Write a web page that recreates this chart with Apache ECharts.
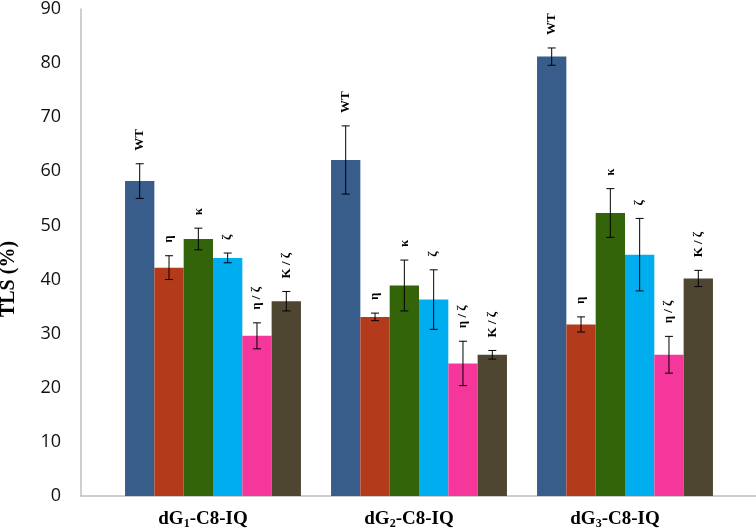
<!DOCTYPE html>
<html>
<head>
<meta charset="utf-8">
<script src="https://cdn.jsdelivr.net/npm/echarts@6/dist/echarts.min.js"></script>
<style>
html,body{margin:0;padding:0;background:#fff;}
#chart{width:756px;height:532px;}
</style>
</head>
<body>
<div id="chart"></div>
<script>
const categories = ['dG1-C8-IQ', 'dG2-C8-IQ', 'dG3-C8-IQ'];
const seriesNames = ['WT', 'η', 'κ', 'ζ', 'η / ζ', 'K / ζ'];
const yTicks = [0, 10, 20, 30, 40, 50, 60, 70, 80, 90];

const wtValues    = [58.2, 62.1, 81.2];
const etaValues   = [42.2, 33.1, 31.7];
const kappaValues = [47.5, 38.9, 52.3];
const zetaValues  = [44.0, 36.3, 44.6];
const etaZetaValues   = [29.6, 24.5, 26.1];
const kappaZetaValues = [36.0, 26.1, 40.2];

const wtErr    = [3.2, 6.3, 1.6];
const etaErr   = [2.2, 0.7, 1.4];
const kappaErr = [2.0, 4.7, 4.5];
const zetaErr  = [0.9, 5.5, 6.7];
const etaZetaErr   = [2.4, 4.1, 3.4];
const kappaZetaErr = [1.8, 0.8, 1.5];

const allValues = [wtValues, etaValues, kappaValues, zetaValues, etaZetaValues, kappaZetaValues];
const allErrors = [wtErr, etaErr, kappaErr, zetaErr, etaZetaErr, kappaZetaErr];
const colors = ['#385d8a', '#b33b1c', '#33640a', '#00aeef', '#f5379c', '#4e4630'];

const CAT_GAP = 0.146;
const NS = seriesNames.length;

const barSeries = seriesNames.map((name, i) => ({
  name: name,
  type: 'bar',
  xAxisIndex: 0,
  yAxisIndex: 0,
  data: allValues[i],
  barGap: '0%',
  barCategoryGap: (CAT_GAP * 100) + '%',
  itemStyle: { color: colors[i] },
  silent: true
}));

const errData = [];
for (let s = 0; s < NS; s++) {
  for (let c = 0; c < categories.length; c++) {
    errData.push([c, s, allValues[s][c], allErrors[s][c]]);
  }
}

const errorSeries = {
  type: 'custom',
  xAxisIndex: 0,
  yAxisIndex: 0,
  data: errData,
  encode: { x: 0, y: 2 },
  z: 10,
  silent: true,
  renderItem: function (params, api) {
    const c = api.value(0), s = api.value(1), v = api.value(2), e = api.value(3);
    const band = api.size([1, 0])[0];
    const bw = band * (1 - CAT_GAP) / NS;
    const center = api.coord([c, v]);
    const x = center[0] + (s - (NS - 1) / 2) * bw;
    const yTop = api.coord([c, v + e])[1];
    const yBot = api.coord([c, v - e])[1];
    const cap = 4;
    const st = { stroke: '#000', lineWidth: 1 };
    return {
      type: 'group',
      children: [
        { type: 'line', shape: { x1: x, y1: yTop, x2: x, y2: yBot }, style: st },
        { type: 'line', shape: { x1: x - cap, y1: yTop, x2: x + cap, y2: yTop }, style: st },
        { type: 'line', shape: { x1: x - cap, y1: yBot, x2: x + cap, y2: yBot }, style: st },
        {
          type: 'text', x: x, y: yTop - 13, rotation: Math.PI / 2,
          style: {
            text: seriesNames[s],
            font: 'bold 13px "Liberation Serif"',
            fill: '#000',
            align: 'left',
            verticalAlign: 'middle'
          }
        }
      ]
    };
  }
};

const chart = echarts.init(document.getElementById('chart'), null, { renderer: 'canvas' });
chart.setOption({
  animation: false,
  backgroundColor: '#fff',
  grid: [
    { left: 110, right: 28, top: 8, bottom: 36 },
    { left: 81, right: 0, top: 8, bottom: 36 }
  ],
  xAxis: [
    {
      type: 'category',
      gridIndex: 0,
      data: categories,
      axisLine: { show: false },
      axisTick: { show: false },
      axisLabel: {
        margin: 12,
        padding: [0, 20, 0, 0],
        formatter: function (v) {
          const m = v.match(/^dG(\d)(.*)$/);
          return '{a|dG}{s|' + m[1] + '}{a|' + m[2] + '}';
        },
        rich: {
          a: { fontFamily: 'Liberation Serif', fontWeight: 'bold', fontSize: 19, color: '#000', lineHeight: 22 },
          s: { fontFamily: 'Liberation Serif', fontWeight: 'bold', fontSize: 12, color: '#000', lineHeight: 22, verticalAlign: 'bottom' }
        }
      }
    },
    {
      type: 'value',
      gridIndex: 1,
      min: 0, max: 1,
      axisLine: { show: true, lineStyle: { color: '#bfbfbf', width: 1.5 } },
      axisTick: { show: false },
      axisLabel: { show: false },
      splitLine: { show: false }
    }
  ],
  yAxis: [
    {
      type: 'value',
      gridIndex: 0,
      min: yTicks[0],
      max: yTicks[yTicks.length - 1],
      interval: 10,
      offset: 29,
      axisLine: { show: true, lineStyle: { color: '#bfbfbf', width: 1.5 } },
      axisTick: { show: false },
      splitLine: { show: false },
      axisLabel: {
        margin: 20,
        fontFamily: 'Open Sans',
        fontSize: 18,
        color: '#111'
      }
    },
    {
      type: 'value',
      gridIndex: 1,
      min: 0, max: 1,
      show: false
    }
  ],
  graphic: [
    {
      type: 'text',
      x: 9, y: 279,
      rotation: Math.PI / 2,
      style: {
        text: 'TLS (%)',
        font: 'bold 20px "Liberation Serif"',
        fill: '#000',
        align: 'center',
        verticalAlign: 'middle'
      }
    }
  ],
  series: barSeries.concat([errorSeries])
});
</script>
</body>
</html>
